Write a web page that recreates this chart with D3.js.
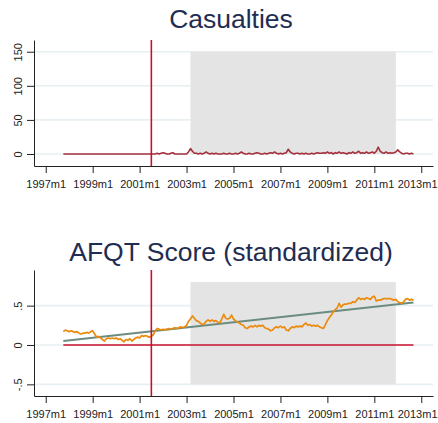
<!DOCTYPE html>
<html>
<head>
<meta charset="utf-8">
<script src="https://cdn.jsdelivr.net/npm/d3@7"></script>
<style>
  body { margin: 0; background: #fff; }
  svg { display: block; font-family: "Liberation Sans", Arial, sans-serif; }
</style>
</head>
<body>
<div id="chart"></div>
<script>
// monthly series, first month is 1997m10, last is 2012m9
const startYear = 1997, startMonth = 10;

const casualties = [
  0,0,0,0,0,0,0,0,0,0, 0,0,0,0,0,0,0,0,0,0,
  0,0,0,0,0,0,0,0,0,0, 0,0,0,0,0,0,0,0,0,0,
  0,0,0,0,0,0,0,0,1,0, 1,2,1,0,0,1,2,0,0,0,
  0,0,0,0,3,8,4,1,1,0, 1,0,1,3,1,0,1,0,1,0,
  0,0,1,0,0,1,0,0,1,0, 1,3,1,0,0,1,0,0,1,2,
  1,0,0,1,0,1,2,1,3,1, 0,1,0,1,2,7,3,1,0,1,
  1,0,1,0,1,0,0,1,0,1, 2,1,1,2,1,3,1,2,0,2,
  1,3,1,2,1,0,2,1,3,1, 2,4,1,2,1,3,1,2,3,1,
  4,10,4,2,1,3,1,2,1,2, 3,6,3,1,0,1,1,0,1,0
];

const afqt = [
  0.17,0.19,0.18,0.17,0.18,0.17,0.16,0.17,0.15,0.14,
  0.15,0.15,0.16,0.15,0.17,0.18,0.14,0.10,0.11,0.09,
  0.07,0.05,0.08,0.09,0.08,0.09,0.08,0.09,0.07,0.08,
  0.06,0.04,0.07,0.06,0.08,0.05,0.07,0.09,0.10,0.09,
  0.12,0.11,0.12,0.11,0.10,0.11,0.13,0.18,0.21,0.20,
  0.19,0.20,0.19,0.20,0.21,0.20,0.21,0.22,0.21,0.22,
  0.23,0.22,0.23,0.25,0.30,0.33,0.37,0.34,0.31,0.30,
  0.28,0.26,0.27,0.30,0.32,0.30,0.32,0.30,0.31,0.29,
  0.28,0.33,0.39,0.34,0.33,0.34,0.38,0.33,0.31,0.29,
  0.28,0.26,0.25,0.22,0.21,0.23,0.24,0.23,0.25,0.23,
  0.25,0.24,0.25,0.22,0.21,0.20,0.18,0.19,0.22,0.23,
  0.22,0.24,0.22,0.23,0.19,0.18,0.21,0.23,0.22,0.24,
  0.23,0.24,0.23,0.26,0.28,0.25,0.26,0.24,0.25,0.24,
  0.25,0.23,0.22,0.21,0.26,0.31,0.35,0.38,0.42,0.45,
  0.47,0.53,0.48,0.51,0.52,0.52,0.53,0.53,0.55,0.54,
  0.57,0.60,0.58,0.59,0.58,0.60,0.59,0.58,0.61,0.62,
  0.56,0.57,0.57,0.58,0.59,0.59,0.59,0.59,0.58,0.57,
  0.58,0.55,0.54,0.53,0.55,0.58,0.59,0.57,0.58,0.57
];

// linear trend of afqt, value at first and last month
const trendValues = [0.05, 0.54];

// events: vertical line month, shaded war period
const eventMonth = [2001, 7];
const shadeMonths = [[2003, 3], [2011, 12]];

const yearTicks = [1997, 1999, 2001, 2003, 2005, 2007, 2009, 2011, 2013];
const yearMinor = [1998, 2000, 2002, 2004, 2006, 2008, 2010, 2012];

const casTicks = [0, 50, 100, 150];
const casMinor = [25, 75, 125];
const afqtTicks = [-0.5, 0, 0.5];
const afqtMinor = [-0.4, -0.3, -0.2, -0.1, 0.1, 0.2, 0.3, 0.4, 0.6, 0.7, 0.8];

const ym = (y, m) => y + (m - 1) / 12;
const monthAt = i => ym(startYear, startMonth) + i / 12;

const width = 438, height = 423;
const svg = d3.select("#chart").append("svg")
    .attr("width", width)
    .attr("height", height);

const x = d3.scaleLinear().domain([1996.5, 2013.5]).range([34, 433]);

function panel(opts) {
    const g = svg.append("g");
    const y = opts.y;
    const [y0, y1] = y.range();

    // title
    svg.append("text")
        .attr("x", 231)
        .attr("y", opts.titleY)
        .attr("text-anchor", "middle")
        .style("font-size", "26.5px")
        .attr("fill", "#1f2d52")
        .text(opts.title);

    // gridlines
    g.selectAll(".grid")
        .data(opts.ticks)
        .enter().append("line")
        .attr("x1", 34).attr("x2", 433)
        .attr("y1", d => y(d)).attr("y2", d => y(d))
        .attr("stroke", "#e8eff2")
        .attr("stroke-width", 1.6);

    // shaded period
    g.append("rect")
        .attr("x", x(ym(...shadeMonths[0])))
        .attr("width", x(ym(...shadeMonths[1])) - x(ym(...shadeMonths[0])))
        .attr("y", y(opts.shade[1]))
        .attr("height", y(opts.shade[0]) - y(opts.shade[1]))
        .attr("fill", "#e4e4e4");

    opts.draw(g, y);

    // vertical event line
    g.append("line")
        .attr("x1", x(ym(...eventMonth))).attr("x2", x(ym(...eventMonth)))
        .attr("y1", y1).attr("y2", y0)
        .attr("stroke", "#c8102e")
        .attr("stroke-width", 1.6);

    // x axis
    const xa = g.append("g").attr("transform", `translate(0,${y0})`);
    xa.call(d3.axisBottom(x).tickValues(yearMinor).tickSize(4).tickSizeOuter(0).tickFormat(""));
    xa.call(d3.axisBottom(x).tickValues(yearTicks).tickSize(7).tickSizeOuter(0)
        .tickFormat(d => d + "m1"));
    xa.selectAll("text").attr("dy", "1.12em").style("font-size", "11px").attr("fill", "#222");
    // keep the last label inside the window
    xa.selectAll("text").each(function (d) {
        const b = this.getBBox();
        const over = x(d) + b.x + b.width - (width - 1);
        if (over > 0) d3.select(this).attr("x", -over);
    });

    // y axis, labels turned on their side
    const ya = g.append("g").attr("transform", "translate(34,0)");
    ya.call(d3.axisLeft(y).tickValues(opts.minor).tickSize(4).tickSizeOuter(0).tickFormat(""));
    ya.call(d3.axisLeft(y).tickValues(opts.ticks).tickSize(7).tickSizeOuter(0).tickFormat(opts.fmt));
    ya.selectAll("text")
        .attr("transform", "rotate(-90)")
        .attr("x", 0)
        .attr("y", -12)
        .attr("dy", 0)
        .attr("text-anchor", "middle")
        .style("font-size", "11px")
        .attr("fill", "#222");

    g.selectAll(".domain, .tick line").attr("stroke", "#222");
}

// casualties panel
panel({
    title: "Casualties",
    titleY: 28,
    y: d3.scaleLinear().domain([-17.6, 167.2]).range([166, 40]),
    ticks: casTicks,
    minor: casMinor,
    shade: [0, 150],
    fmt: d => String(d),
    draw: (g, y) => {
        g.append("path")
            .datum(casualties)
            .attr("fill", "none")
            .attr("stroke", "#a3303c")
            .attr("stroke-width", 1.6)
            .attr("stroke-linejoin", "round")
            .attr("d", d3.line().x((d, i) => x(monthAt(i))).y(d => y(d)));
    }
});

// afqt panel
panel({
    title: "AFQT Score (standardized)",
    titleY: 261,
    y: d3.scaleLinear().domain([-0.648, 0.953]).range([396, 270]),
    ticks: afqtTicks,
    minor: afqtMinor,
    shade: [-0.5, 0.8],
    fmt: d => d === 0 ? "0" : (d < 0 ? "-" : "") + String(Math.abs(d)).replace(/^0/, ""),
    draw: (g, y) => {
        const first = monthAt(0), last = monthAt(afqt.length - 1);
        g.append("line")
            .attr("x1", x(first)).attr("x2", x(last))
            .attr("y1", y(0)).attr("y2", y(0))
            .attr("stroke", "#c8102e")
            .attr("stroke-width", 1.6);
        g.append("line")
            .attr("x1", x(first)).attr("x2", x(last))
            .attr("y1", y(trendValues[0])).attr("y2", y(trendValues[1]))
            .attr("stroke", "#6c8c80")
            .attr("stroke-width", 2);
        g.append("path")
            .datum(afqt)
            .attr("fill", "none")
            .attr("stroke", "#ec8a0c")
            .attr("stroke-width", 1.7)
            .attr("stroke-linejoin", "round")
            .attr("d", d3.line().x((d, i) => x(monthAt(i))).y(d => y(d)));
    }
});
</script>
</body>
</html>
